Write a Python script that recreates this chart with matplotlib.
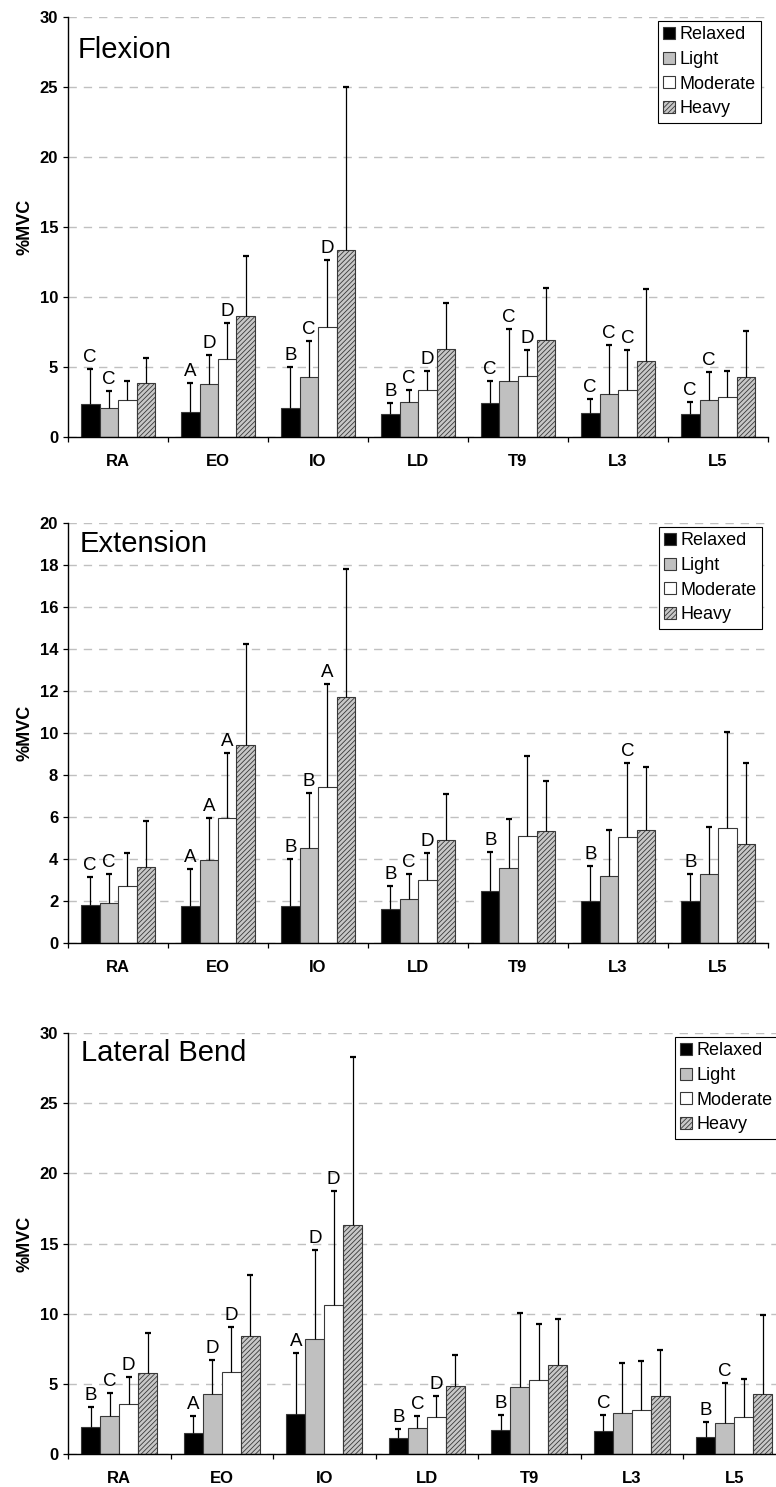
import matplotlib
matplotlib.use('Agg')
import matplotlib.pyplot as plt
import numpy as np
from matplotlib.patches import Patch

plt.rcParams['font.family'] = ['Liberation Sans', 'DejaVu Sans']
plt.rcParams['hatch.linewidth'] = 0.6

muscles = ['RA', 'EO', 'IO', 'LD', 'T9', 'L3', 'L5']
loads = ['Relaxed', 'Light', 'Moderate', 'Heavy']

# Flexion (mean %MVC and upper SD)
flex_relaxed = [2.33, 1.81, 2.10, 1.64, 2.45, 1.69, 1.67]
flex_light = [2.10, 3.76, 4.31, 2.48, 4.00, 3.10, 2.62]
flex_moderate = [2.62, 5.55, 7.83, 3.36, 4.38, 3.38, 2.83]
flex_heavy = [3.83, 8.67, 13.36, 6.29, 6.93, 5.45, 4.26]
flex_relaxed_sd = [2.53, 2.02, 2.88, 0.81, 1.57, 1.05, 0.85]
flex_light_sd = [1.19, 2.10, 2.57, 0.90, 3.69, 3.47, 2.00]
flex_moderate_sd = [1.36, 2.62, 4.81, 1.38, 1.83, 2.83, 1.91]
flex_heavy_sd = [1.84, 4.23, 11.62, 3.26, 3.74, 5.12, 3.34]
flex_letters = [['C', 'C', ''], ['A', 'D', 'D'], ['B', 'C', 'D'], ['B', 'C', 'D'],
                ['C', 'C', 'D'], ['C', 'C', 'C'], ['C', 'C', '']]

# Extension
ext_relaxed = [1.80, 1.75, 1.75, 1.60, 2.49, 2.00, 2.00]
ext_light = [1.90, 3.94, 4.51, 2.10, 3.57, 3.21, 3.27]
ext_moderate = [2.71, 5.94, 7.41, 2.98, 5.10, 5.05, 5.49]
ext_heavy = [3.63, 9.43, 11.73, 4.90, 5.32, 5.37, 4.73]
ext_relaxed_sd = [1.33, 1.76, 2.25, 1.11, 1.86, 1.67, 1.30]
ext_light_sd = [1.37, 2.03, 2.63, 1.20, 2.33, 2.17, 2.27]
ext_moderate_sd = [1.56, 3.09, 4.92, 1.32, 3.82, 3.54, 4.54]
ext_heavy_sd = [2.18, 4.79, 6.06, 2.20, 2.39, 3.00, 3.86]
ext_letters = [['C', 'C', ''], ['A', 'A', 'A'], ['B', 'B', 'A'], ['B', 'C', 'D'],
               ['B', '', ''], ['B', '', 'C'], ['B', '', '']]

# Lateral bend
lat_relaxed = [1.93, 1.48, 2.88, 1.12, 1.69, 1.64, 1.24]
lat_light = [2.71, 4.26, 8.21, 1.88, 4.76, 2.95, 2.24]
lat_moderate = [3.55, 5.86, 10.64, 2.62, 5.26, 3.14, 2.62]
lat_heavy = [5.79, 8.43, 16.33, 4.81, 6.31, 4.14, 4.24]
lat_relaxed_sd = [1.40, 1.26, 4.33, 0.67, 1.10, 1.17, 1.05]
lat_light_sd = [1.62, 2.41, 6.31, 0.83, 5.31, 3.57, 2.81]
lat_moderate_sd = [1.93, 3.19, 8.12, 1.50, 3.98, 3.46, 2.69]
lat_heavy_sd = [2.85, 4.31, 11.98, 2.26, 3.33, 3.24, 5.66]
lat_letters = [['B', 'C', 'D'], ['A', 'D', 'D'], ['A', 'D', 'D'], ['B', 'C', 'D'],
               ['B', '', ''], ['C', '', ''], ['B', 'C', '']]

faces = ['black', '#c0c0c0', 'white', '#c8c8c8']
hatches = [None, None, None, '///////']
W, H = 776, 1487
bw = 0.185

fig = plt.figure(figsize=(W / 100, H / 100), dpi=100)


def panel(box, means, sds, letters, title, title_off, ymax, ystep, leg_pos):
    left, top, right, bottom = box
    ax = fig.add_axes([left / W, 1 - bottom / H, (right - left) / W, (bottom - top) / H])
    x = np.arange(7) + 0.5
    for i in range(4):
        xi = x + (i - 1.5) * bw
        m = np.array(means[i])
        tops = m + np.array(sds[i])
        ax.bar(xi, m, bw, color=faces[i], edgecolor='#383838', linewidth=0.8,
               hatch=hatches[i], zorder=2)
        # upper error bars only
        ax.vlines(xi, m, tops, color='black', linewidth=0.9, zorder=3)
        ax.plot(xi, tops, linestyle='none', marker='_', markersize=4.5,
                markeredgewidth=1.6, color='black', zorder=3)
        if i < 3:
            for k in range(7):
                if letters[k][i]:
                    ax.annotate(letters[k][i], xy=(xi[k], tops[k]),
                                xytext=(0, 5), textcoords='offset points',
                                ha='center', va='baseline', fontsize=13.5)
    ax.set_xlim(0, 7)
    ax.set_ylim(0, ymax)
    ax.set_xticks(x)
    ax.set_xticklabels(muscles, fontweight='bold', fontsize=12)
    ax.set_xticks(np.arange(8), minor=True)
    ax.tick_params(axis='x', which='major', length=0, pad=12)
    ax.tick_params(axis='x', which='minor', length=3.6, width=0.9)
    ax.set_yticks(np.arange(0, ymax + 0.1, ystep))
    ax.tick_params(axis='y', length=3.6, width=0.9, labelsize=12)
    for lab in ax.get_yticklabels():
        lab.set_fontweight('bold')
    ax.yaxis.grid(True, color='#c0c0c0', linestyle=(0, (6, 5)), linewidth=1)
    ax.set_axisbelow(True)
    for s in ['top', 'right']:
        ax.spines[s].set_visible(False)
    for s in ['left', 'bottom']:
        ax.spines[s].set_linewidth(1.0)
    ax.set_ylabel('%MVC', fontweight='bold', fontsize=13)
    ax.yaxis.set_label_coords((33 - left) / (right - left), 0.5)
    ax.annotate(title, xy=(0, 1), xycoords='axes fraction', xytext=title_off,
                textcoords='offset points', ha='left', va='top', fontsize=21)
    handles = [Patch(facecolor=faces[i], edgecolor='#383838', hatch=hatches[i], linewidth=0.8)
               for i in range(4)]
    leg = ax.legend(handles, loads, loc='upper left',
                    bbox_to_anchor=(leg_pos[0] / W, 1 - leg_pos[1] / H),
                    bbox_transform=fig.transFigure, borderaxespad=0, fancybox=False,
                    framealpha=1, edgecolor='black', fontsize=13, handlelength=0.65,
                    handleheight=0.65, handletextpad=0.25, labelspacing=0.42, borderpad=0.3)
    leg.get_frame().set_linewidth(0.8)
    return ax


panel((68, 17, 768, 437),
      [flex_relaxed, flex_light, flex_moderate, flex_heavy],
      [flex_relaxed_sd, flex_light_sd, flex_moderate_sd, flex_heavy_sd],
      flex_letters, 'Flexion', (7.2, -13.7), 30, 5, (658, 21))
panel((68, 523, 768, 943),
      [ext_relaxed, ext_light, ext_moderate, ext_heavy],
      [ext_relaxed_sd, ext_light_sd, ext_moderate_sd, ext_heavy_sd],
      ext_letters, 'Extension', (8.6, -5), 20, 2, (659, 527))
panel((68, 1033, 785.5, 1454),
      [lat_relaxed, lat_light, lat_moderate, lat_heavy],
      [lat_relaxed_sd, lat_light_sd, lat_moderate_sd, lat_heavy_sd],
      lat_letters, 'Lateral Bend', (9.4, -4.3), 30, 5, (675, 1037))

fig.savefig('out.png', dpi=100)
